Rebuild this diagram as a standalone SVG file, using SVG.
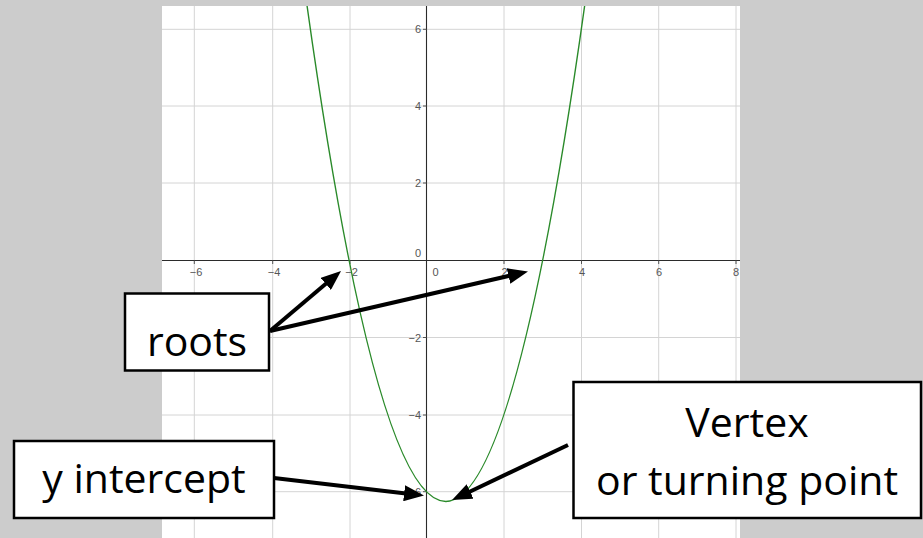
<svg xmlns="http://www.w3.org/2000/svg" width="923" height="538" viewBox="0 0 923 538">
  <style>
    .grid { stroke: #d4d4d4; stroke-width: 1; fill: none; }
    .axis { stroke: #2b2b2b; stroke-width: 1.1; fill: none; }
    .tick { stroke: #555; stroke-width: 1; }
    .tl { font-family: "Liberation Sans", Arial, sans-serif; font-size: 11px; fill: #555; }
    .tlx { text-anchor: middle; }
    .tly { text-anchor: end; }
    .curve { stroke: #2a8a2a; stroke-width: 1.4; fill: none; }
    .box { fill: #ffffff; stroke: #000000; stroke-width: 2.5; }
    .lbl { font-family: "Open Sans", "Noto Sans", sans-serif; font-size: 41px; fill: #000; text-anchor: middle; }
    .arrow { stroke: #000; stroke-width: 4; fill: none; marker-end: url(#ah); }
  </style>
  <defs>
    <marker id="ah" viewBox="0 0 5 4" refX="1" refY="2" markerWidth="5" markerHeight="4" orient="auto" markerUnits="strokeWidth">
      <path d="M0,0 L5,2 L0,4 z" fill="#000"/>
    </marker>
    <clipPath id="plotclip">
      <rect x="162" y="6" width="578" height="532"/>
    </clipPath>
  </defs>

  <rect x="0" y="0" width="923" height="538" fill="#cccccc"/>

  <g id="graph" clip-path="url(#plotclip)">
    <rect x="162" y="6" width="578" height="532" fill="#ffffff"/>
    <g id="grid">
      <line class="grid" x1="194.3" y1="6" x2="194.3" y2="538"/>
      <line class="grid" x1="272.7" y1="6" x2="272.7" y2="538"/>
      <line class="grid" x1="350" y1="6" x2="350" y2="538"/>
      <line class="grid" x1="504" y1="6" x2="504" y2="538"/>
      <line class="grid" x1="581.5" y1="6" x2="581.5" y2="538"/>
      <line class="grid" x1="658.7" y1="6" x2="658.7" y2="538"/>
      <line class="grid" x1="736" y1="6" x2="736" y2="538"/>
      <line class="grid" x1="162" y1="29.3" x2="740" y2="29.3"/>
      <line class="grid" x1="162" y1="106" x2="740" y2="106"/>
      <line class="grid" x1="162" y1="183" x2="740" y2="183"/>
      <line class="grid" x1="162" y1="337.5" x2="740" y2="337.5"/>
      <line class="grid" x1="162" y1="415" x2="740" y2="415"/>
      <line class="grid" x1="162" y1="491.7" x2="740" y2="491.7"/>
    </g>
    <g id="axes">
      <line class="axis" x1="162" y1="260.5" x2="740" y2="260.5"/>
      <line class="axis" x1="426.5" y1="6" x2="426.5" y2="538"/>
      <line class="tick" x1="194.3" y1="260.5" x2="194.3" y2="264"/>
      <line class="tick" x1="272.7" y1="260.5" x2="272.7" y2="264"/>
      <line class="tick" x1="350" y1="260.5" x2="350" y2="264"/>
      <line class="tick" x1="504" y1="260.5" x2="504" y2="264"/>
      <line class="tick" x1="581.5" y1="260.5" x2="581.5" y2="264"/>
      <line class="tick" x1="658.7" y1="260.5" x2="658.7" y2="264"/>
      <line class="tick" x1="736" y1="260.5" x2="736" y2="264"/>
      <line class="tick" x1="423" y1="29.3" x2="426.5" y2="29.3"/>
      <line class="tick" x1="423" y1="106" x2="426.5" y2="106"/>
      <line class="tick" x1="423" y1="183" x2="426.5" y2="183"/>
      <line class="tick" x1="423" y1="337.5" x2="426.5" y2="337.5"/>
      <line class="tick" x1="423" y1="415" x2="426.5" y2="415"/>
      <line class="tick" x1="423" y1="491.7" x2="426.5" y2="491.7"/>
    </g>
    <g id="tick-labels">
      <text class="tl tlx" x="196" y="276">−6</text>
      <text class="tl tlx" x="274" y="276">−4</text>
      <text class="tl tlx" x="351.5" y="276">−2</text>
      <text class="tl tlx" x="435.5" y="276">0</text>
      <text class="tl tlx" x="504.5" y="276">2</text>
      <text class="tl tlx" x="582" y="276">4</text>
      <text class="tl tlx" x="659" y="276">6</text>
      <text class="tl tlx" x="736" y="276">8</text>
      <text class="tl tly" x="421" y="33.3">6</text>
      <text class="tl tly" x="421" y="110">4</text>
      <text class="tl tly" x="421" y="187">2</text>
      <text class="tl tly" x="421" y="257">0</text>
      <text class="tl tly" x="421" y="341.5">−2</text>
      <text class="tl tly" x="421" y="419">−4</text>
      <text class="tl tly" x="421" y="495.7">−6</text>
    </g>
    <path id="parabola" class="curve" d="M306.5,1.8 Q445.85,1001.05 585.2,1.8"/>
  </g>

  <g id="connectors">
    <line class="arrow" x1="270" y1="331" x2="328.8" y2="281.3"/>
    <line class="arrow" x1="270" y1="331" x2="512.4" y2="275.1"/>
    <line class="arrow" x1="274" y1="478" x2="408.1" y2="493.7"/>
    <line class="arrow" x1="568" y1="445" x2="466.5" y2="493.2"/>
  </g>

  <g id="node-roots">
    <rect class="box" x="125" y="293.5" width="144" height="77"/>
    <text class="lbl" x="197" y="356">roots</text>
  </g>
  <g id="node-yintercept">
    <rect class="box" x="14" y="441" width="260" height="77"/>
    <text class="lbl" x="144" y="493">y intercept</text>
  </g>
  <g id="node-vertex">
    <rect class="box" x="573.5" y="382" width="347.5" height="136"/>
    <text class="lbl" x="747" y="437">Vertex</text>
    <text class="lbl" x="747" y="495">or turning point</text>
  </g>
</svg>
